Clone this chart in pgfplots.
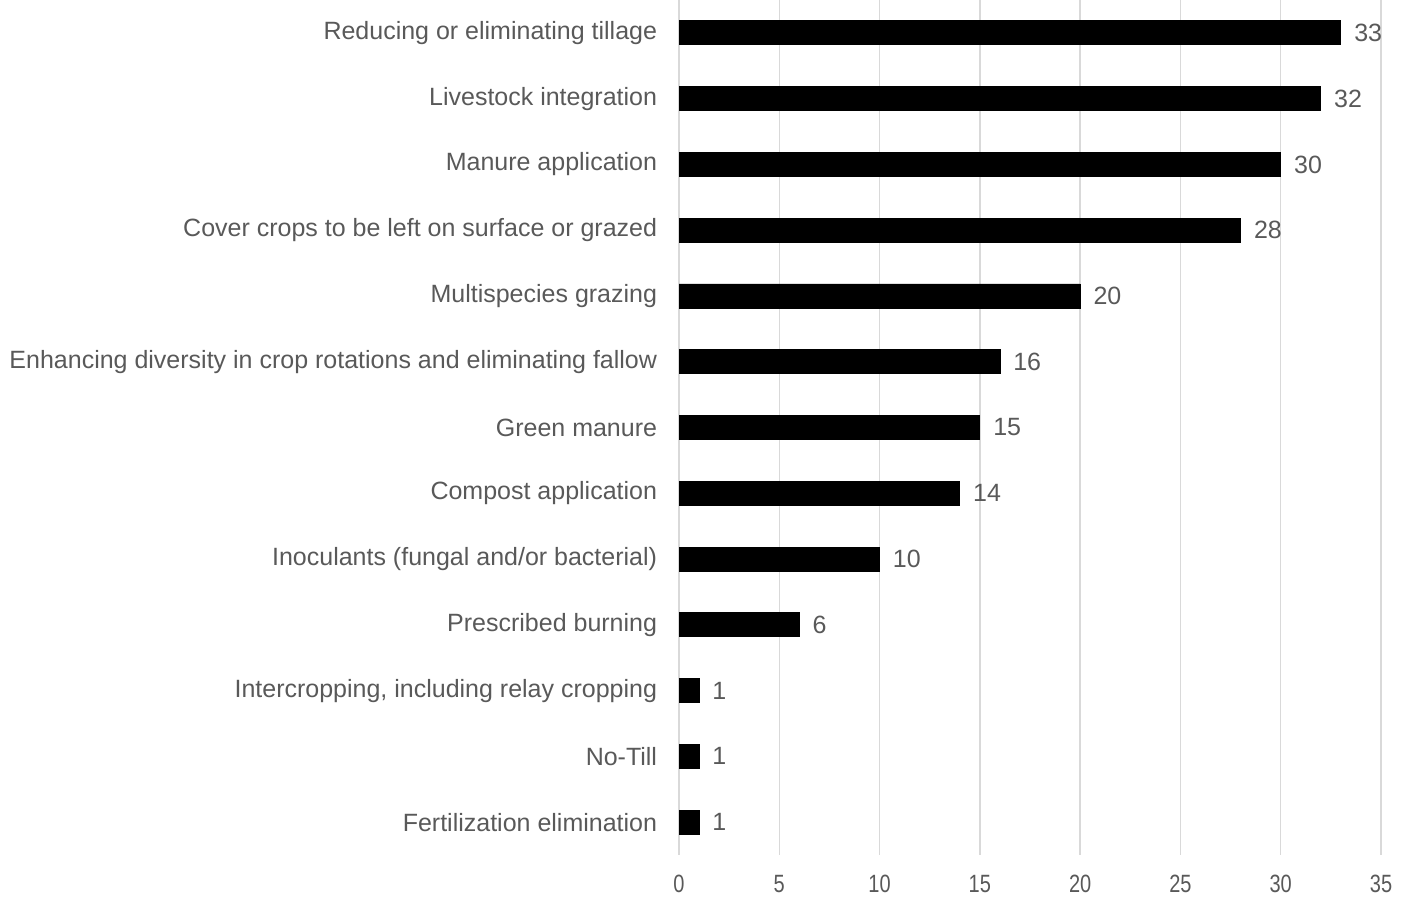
\documentclass[border=0pt]{standalone}
\usepackage{fontspec}
\setmainfont{Liberation Sans}
\newfontfamily\narrowfont[FakeStretch=0.8]{Liberation Sans}
\usepackage{pgfplots}
\pgfplotsset{compat=1.18}
\definecolor{labelgray}{HTML}{595959}
\definecolor{gridgray}{HTML}{D9D9D9}
\begin{document}
\begin{tikzpicture}
\path[use as bounding box] (0,0) rectangle (703.5pt,448pt);
\begin{axis}[
  at={(339.5pt,20.5pt)}, anchor=south west,
  scale only axis, width=351pt, height=427.5pt,
  xbar, bar width=12pt,
  xmin=0, xmax=35, ymin=-0.5, ymax=12.5,
  y dir=reverse,
  xtick={0,5,...,35},
  ytick={0,...,12},
  yticklabels={Reducing or eliminating tillage,Livestock integration,Manure application,Cover crops to be left on surface or grazed,Multispecies grazing,Enhancing diversity in crop rotations and eliminating fallow,Green manure,Compost application,Inoculants (fungal and/or bacterial),Prescribed burning,{Intercropping, including relay cropping},No-Till,Fertilization elimination},
  axis line style={draw=none},
  major tick style={draw=none},
  xmajorgrids, grid style={gridgray, line width=0.7pt},
  yticklabel style={font=\fontsize{12.5}{14}\selectfont, text=labelgray, anchor=east, inner sep=0pt, xshift=-6.5pt},
  xticklabel style={font=\narrowfont\fontsize{12.5}{14}\selectfont, text=labelgray, anchor=center, inner sep=0pt, yshift=-14.5pt},
  /pgf/number format/assume math mode=true,
  nodes near coords,
  nodes near coords style={font=\fontsize{12.5}{14}\selectfont, text=labelgray, anchor=west, inner sep=0pt, xshift=6.5pt},
]
\addplot[fill=black, draw=black] coordinates {
  (33,0) (32,1) (30,2) (28,3) (20,4) (16,5) (15,6) (14,7) (10,8) (6,9) (1,10) (1,11) (1,12)
};
\end{axis}
\end{tikzpicture}
\end{document}
